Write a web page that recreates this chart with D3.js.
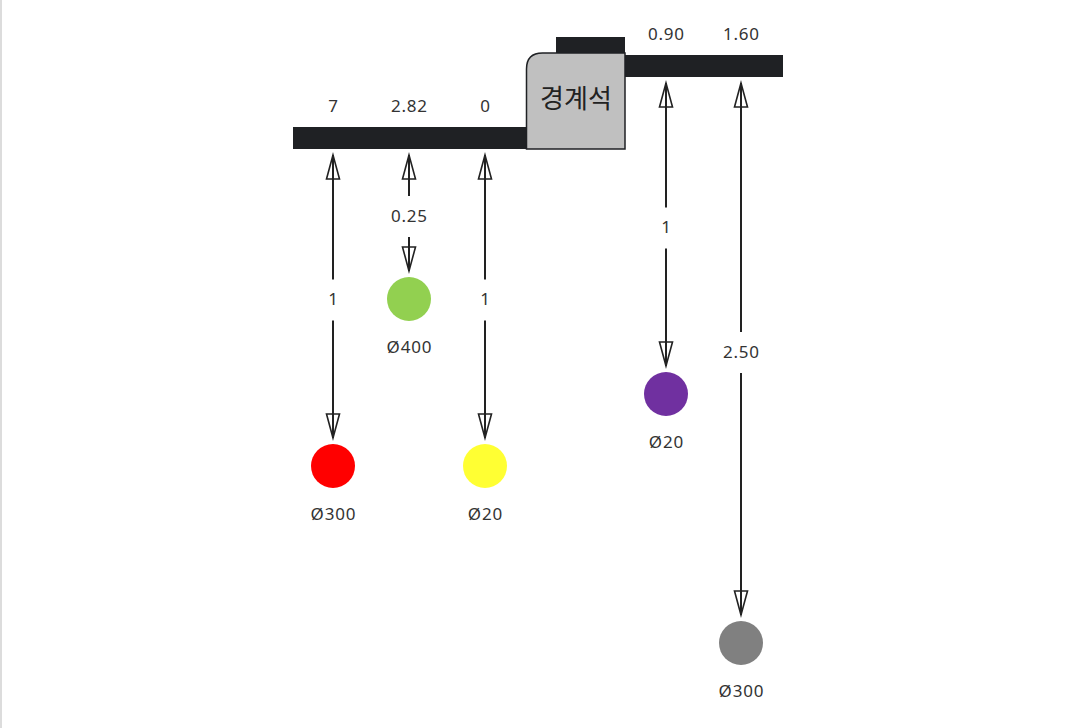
<!DOCTYPE html>
<html>
<head>
<meta charset="utf-8">
<script src="https://cdn.jsdelivr.net/npm/d3@7"></script>
<style>
  html, body { margin: 0; padding: 0; background: #fff; }
  body { border-left: 2px solid #dcdcdc; width: 1070px; height: 728px; overflow: hidden; }
  svg text { font-family: "Noto Sans", "Noto Sans CJK KR", sans-serif; fill: #333; }
</style>
</head>
<body>
<div class="container"></div>
<script>
// road side (left of curb)
const roadOffsets = ["7", "2.82", "0"]
const roadDepths = [1, 0.25, 1]
const roadDepthLabels = ["1", "0.25", "1"]
const roadPipes = ["Ø300", "Ø400", "Ø20"]

// sidewalk side (right of curb)
const walkOffsets = ["0.90", "1.60"]
const walkDepths = [1, 2.5]
const walkDepthLabels = ["1", "2.50"]
const walkPipes = ["Ø20", "Ø300"]

const pipeColors = ["#ff0000", "#92d050", "#ffff33", "#7030a0", "#808080"]
const curbLabel = "경계석"

const container = d3.select(".container")
const svg = container.append("svg")
    .attr("width", 1070)
    .attr("height", 728)

// horizontal slots, each side has its own point scale
const xRoad = d3.scalePoint().domain(d3.range(roadOffsets.length)).range([331, 483])
const xWalk = d3.scalePoint().domain(d3.range(walkOffsets.length)).range([664, 739])

// depth -> distance from surface bottom to pipe centre
const depth = d3.scaleLinear().domain([0.25, 1, 2.5]).range([150, 317, 566])

const roadTop = 127, roadBottom = 149
const walkTop = 55, walkBottom = 77
const dark = "#1f2124"

// road slab
svg.append("rect")
    .attr("x", 291).attr("y", roadTop)
    .attr("width", 234).attr("height", roadBottom - roadTop)
    .attr("fill", dark)

// sidewalk slab
svg.append("rect")
    .attr("x", 623).attr("y", walkTop)
    .attr("width", 158).attr("height", walkBottom - walkTop)
    .attr("fill", dark)

// curb cap
svg.append("rect")
    .attr("x", 554).attr("y", 37)
    .attr("width", 69).attr("height", 16)
    .attr("fill", dark)

// curb stone with rounded corner
const cx0 = 524.5, cx1 = 623, cy0 = 53, cy1 = 149, rr = 16
svg.append("path")
    .attr("d", `M${cx0},${cy1} L${cx0},${cy0 + rr} Q${cx0},${cy0} ${cx0 + rr},${cy0} L${cx1},${cy0} L${cx1},${cy1} Z`)
    .attr("fill", "#c0c0c0")
    .attr("stroke", dark)
    .attr("stroke-width", 1.5)

svg.append("text")
    .attr("x", 574).attr("y", 101)
    .attr("text-anchor", "middle")
    .attr("dominant-baseline", "middle")
    .style("font-family", "'Noto Sans CJK KR', sans-serif")
    .style("font-size", "26px")
    .style("font-weight", 400)
    .style("fill", "#222")
    .text(curbLabel)

function head(g, x, y, dir) {
    // hollow triangle, tip at (x, y); dir = 1 points up, -1 points down
    g.append("path")
        .attr("d", `M${x},${y} L${x - 6.5},${y + dir * 24} L${x + 6.5},${y + dir * 24} Z`)
        .attr("fill", "none")
        .attr("stroke", "#222")
        .attr("stroke-width", 1.6)
}

function label(g, x, y, txt) {
    g.append("text")
        .attr("x", x + 0.4).attr("y", y)
        .attr("text-anchor", "middle")
        .attr("dominant-baseline", "middle")
        .style("font-size", "17px")
        .style("letter-spacing", "0.8px")
        .text(txt)
}

function drawSide(offsets, depths, depthLabels, pipes, colors, xs, top, bottom) {
    offsets.forEach((off, i) => {
        const x = xs(i)
        const cy = bottom + depth(depths[i])
        const r = 22
        const y0 = bottom + 6
        const y1 = cy - r - 6
        const mid = (y0 + y1) / 2 + 4
        const g = svg.append("g")

        label(g, x, top - 20, off)

        g.append("line")
            .attr("x1", x).attr("x2", x)
            .attr("y1", y0).attr("y2", mid - 21)
            .attr("stroke", "#222").attr("stroke-width", 2)
        g.append("line")
            .attr("x1", x).attr("x2", x)
            .attr("y1", mid + 20).attr("y2", y1)
            .attr("stroke", "#222").attr("stroke-width", 2)
        head(g, x, y0, 1)
        head(g, x, y1, -1)

        label(g, x, mid, depthLabels[i])

        g.append("circle")
            .attr("cx", x).attr("cy", cy).attr("r", r)
            .attr("fill", colors[i])

        label(g, x, cy + 49, pipes[i])
    })
}

drawSide(roadOffsets, roadDepths, roadDepthLabels, roadPipes, pipeColors.slice(0, 3), xRoad, roadTop, roadBottom)
drawSide(walkOffsets, walkDepths, walkDepthLabels, walkPipes, pipeColors.slice(3), xWalk, walkTop, walkBottom)
</script>
</body>
</html>
